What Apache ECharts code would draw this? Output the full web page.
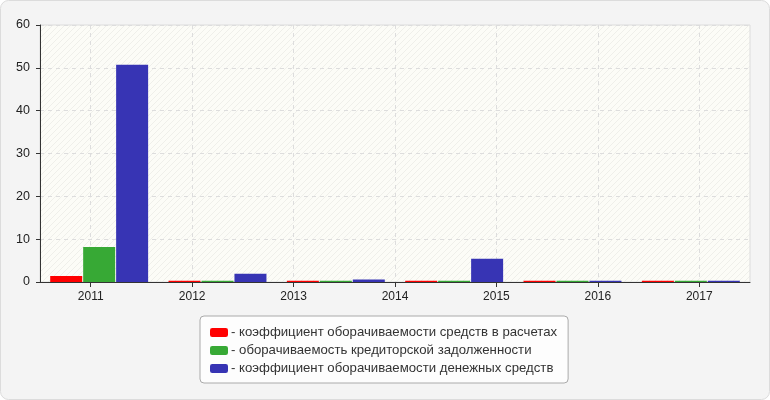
<!DOCTYPE html>
<html>
<head>
<meta charset="utf-8">
<script src="https://cdn.jsdelivr.net/npm/echarts@6/dist/echarts.min.js"></script>
<style>
html,body{margin:0;padding:0;background:#fff;}
#c{width:770px;height:400px;}
</style>
</head>
<body>
<div id="c"></div>
<script>
// Tick labels shown on the x axis
var yearLabels = ['2011', '2012', '2013', '2014', '2015', '2016', '2017'];
// Bar groups (six groups drawn across the plot)
var groups = ['g1', 'g2', 'g3', 'g4', 'g5', 'g6'];
var seriesNames = [
  'коэффициент оборачиваемости средств в расчетах',
  'оборачиваемость кредиторской задолженности',
  'коэффициент оборачиваемости денежных средств'
];
var redValues = [1.4, 0.3, 0.3, 0.3, 0.3, 0.3];
var greenValues = [8.2, 0.3, 0.3, 0.3, 0.3, 0.3];
var blueValues = [50.7, 1.9, 0.6, 5.4, 0.3, 0.3];
var yTicks = [0, 10, 20, 30, 40, 50, 60];

var colors = ['#ff0000', '#37a935', '#3734b4'];

// hatch pattern for plot background
var pc = document.createElement('canvas');
pc.width = 6; pc.height = 6;
var px = pc.getContext('2d');
px.fillStyle = '#fcfcf7';
px.fillRect(0, 0, 6, 6);
px.strokeStyle = 'rgba(0,0,0,0.05)';
px.lineWidth = 1;
px.beginPath();
px.moveTo(0, 6); px.lineTo(6, 0);
px.moveTo(-3, 3); px.lineTo(3, -3);
px.moveTo(3, 9); px.lineTo(9, 3);
px.stroke();

var chart = echarts.init(document.getElementById('c'), null, {renderer: 'canvas'});
var font = 'Arial, "Liberation Sans", sans-serif';
var option = {
  animation: false,
  backgroundColor: '#ffffff',
  textStyle: {fontFamily: font},
  graphic: [{
    type: 'rect', silent: true, z: -10,
    shape: {x: 0.5, y: 0.5, width: 769, height: 399, r: 8},
    style: {fill: '#f4f4f4', stroke: '#dcdcdc', lineWidth: 1}
  }],
  grid: {
    left: 40, right: 20, top: 25, bottom: 118,
    show: true,
    backgroundColor: {image: pc, repeat: 'repeat'},
    borderColor: '#dcdcdc', borderWidth: 1
  },
  legend: {
    orient: 'vertical',
    left: 200, top: 316,
    padding: [10, 11, 8, 10],
    backgroundColor: '#fdfdfd',
    borderColor: '#aaaaaa', borderWidth: 1, borderRadius: 4,
    itemWidth: 18, itemHeight: 9, itemGap: 5,
    icon: 'roundRect',
    selectedMode: false,
    formatter: function (n) { return '- ' + n; },
    textStyle: {fontSize: 13.2, color: '#333', fontFamily: font, lineHeight: 13, padding: [0, 0, 0, -2]},
    data: seriesNames
  },
  xAxis: [{
    type: 'category',
    data: yearLabels,
    boundaryGap: true,
    axisLine: {lineStyle: {color: '#333', width: 1}},
    axisTick: {show: true, alignWithLabel: true, length: 5, lineStyle: {color: '#333'}},
    axisLabel: {color: '#222', fontSize: 12, margin: 9, fontFamily: font},
    splitLine: {show: true, alignWithLabel: true, lineStyle: {color: '#dddddd', type: [4, 4]}}
  }, {
    type: 'category',
    data: groups,
    position: 'top',
    show: false,
    boundaryGap: true
  }],
  yAxis: {
    type: 'value',
    min: 0, max: 60, interval: 10,
    axisLine: {show: true, lineStyle: {color: '#333', width: 1}},
    axisTick: {show: true, length: 4, lineStyle: {color: '#333'}},
    axisLabel: {color: '#222', fontSize: 12.5, margin: 10, fontFamily: font,
      formatter: function (v) { return yTicks.indexOf(v) >= 0 ? String(v) : ''; }},
    splitLine: {show: true, lineStyle: {color: '#dddddd', type: [4, 4]}}
  },
  series: [
    {name: seriesNames[0], type: 'bar', xAxisIndex: 1, data: redValues, barWidth: 32, barGap: '3%', itemStyle: {color: colors[0]}},
    {name: seriesNames[1], type: 'bar', xAxisIndex: 1, data: greenValues, barWidth: 32, barGap: '3%', itemStyle: {color: colors[1]}},
    {name: seriesNames[2], type: 'bar', xAxisIndex: 1, data: blueValues, barWidth: 32, barGap: '3%', itemStyle: {color: colors[2]}}
  ]
};
chart.setOption(option);
</script>
</body>
</html>
